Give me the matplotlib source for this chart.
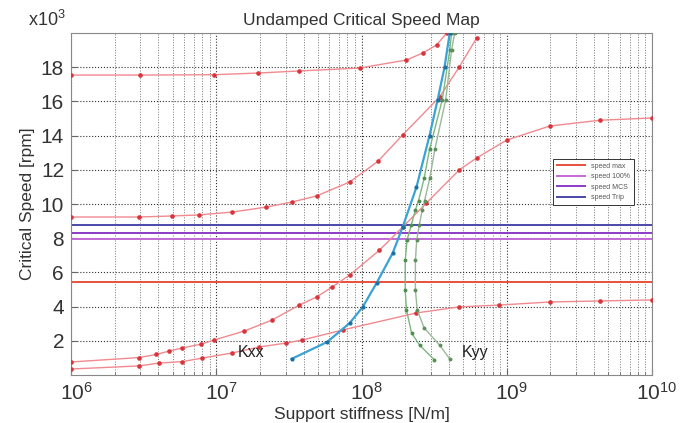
import matplotlib
matplotlib.use("Agg")
import matplotlib.pyplot as plt
import matplotlib.transforms as mtransforms
from matplotlib.ticker import LogLocator, NullFormatter

plt.rcParams['font.family'] = ['Liberation Sans', 'DejaVu Sans']
plt.rcParams['mathtext.default'] = 'regular'

# stiffness [N/m] and critical speed [rpm x 1000]
mode1_k = [1e6, 2.94e6, 4.04e6, 5.83e6, 8.0e6, 1.29e7, 1.98e7, 3.04e7, 3.92e7, 7.4e7,
           2.39e8, 4.7e8, 8.9e8, 1.98e9, 4.4e9, 1e10]
mode1_s = [0.35, 0.53, 0.70, 0.78, 0.99, 1.29, 1.64, 1.87, 2.05, 2.63,
           3.63, 3.98, 4.09, 4.27, 4.33, 4.39]

mode2_k = [1e6, 2.94e6, 3.85e6, 4.74e6, 5.83e6, 7.9e6, 9.7e6, 1.56e7, 2.43e7, 3.73e7,
           4.9e7, 6.3e7, 8.3e7, 1.33e8, 1.92e8, 2.8e8, 4.7e8, 6.2e8, 1.0e9, 1.98e9,
           4.4e9, 1e10]
mode2_s = [0.76, 1.02, 1.2, 1.40, 1.58, 1.81, 2.05, 2.57, 3.22, 4.09,
           4.56, 5.15, 5.85, 7.3, 8.65, 10.06, 11.99, 12.69, 13.74, 14.56,
           14.9, 15.03]

mode3_k = [1e6, 2.94e6, 4.98e6, 7.6e6, 1.29e7, 2.21e7, 3.34e7, 4.9e7, 8.3e7, 1.3e8,
           1.92e8, 3.45e8, 4.7e8, 6.2e8]
mode3_s = [9.24, 9.24, 9.30, 9.36, 9.53, 9.82, 10.12, 10.47, 11.29, 12.5,
           14.04, 16.26, 18.0, 19.7]

mode4_k = [1e6, 3e6, 9.7e6, 1.95e7, 3.73e7, 9.7e7, 2.04e8, 2.64e8, 3.29e8, 3.86e8]
mode4_s = [17.54, 17.54, 17.56, 17.66, 17.78, 17.95, 18.42, 18.83, 19.3, 20.0]

kxx_k = [3.3e7, 5.8e7, 8.3e7, 1.02e8, 1.27e8, 1.64e8, 1.92e8, 2.39e8, 2.94e8, 3.34e8,
         3.73e8, 4.05e8]
kxx_s = [0.94, 1.93, 3.04, 3.98, 5.38, 7.13, 8.65, 10.99, 14.0, 16.08, 18.0, 20.0]

kyy1_k = [3.18e8, 2.51e8, 2.21e8, 2.04e8, 2.0e8, 2.0e8, 2.06e8, 2.2e8, 2.35e8, 2.47e8,
          2.7e8, 2.94e8, 3.6e8, 4.05e8, 4.17e8]
kyy1_s = [0.88, 1.75, 2.46, 3.8, 4.97, 6.7, 7.9, 8.77, 9.65, 10.2,
          11.5, 13.2, 16.1, 19.0, 20.0]

kyy2_k = [4.05e8, 3.45e8, 2.7e8, 2.42e8, 2.35e8, 2.35e8, 2.4e8, 2.5e8, 2.62e8, 2.72e8,
          2.95e8, 3.2e8, 3.8e8, 4.17e8, 4.38e8]
kyy2_s = [0.94, 1.75, 2.75, 3.8, 4.97, 6.7, 7.9, 8.77, 9.65, 10.2,
          11.5, 13.2, 16.1, 19.0, 20.0]

speed_names = ['speed max', 'speed 100%', 'speed MCS', 'speed Trip']
speed_values = [5.44, 7.95, 8.30, 8.77]
speed_colors = ['#e8503a', '#c46ad6', '#8a3cc8', '#4a4aa8']

fig = plt.figure(figsize=(6.88, 4.23), dpi=100)
ax = fig.add_axes([71 / 688, 1 - 375 / 423, 581 / 688, 342 / 423])

for k, s in [(mode1_k, mode1_s), (mode2_k, mode2_s), (mode3_k, mode3_s), (mode4_k, mode4_s)]:
    ax.plot(k, s, '-', color='#f08a8f', lw=1.0, marker='o', ms=2.3,
            mfc='#d8343c', mec='#d8343c', zorder=3)

ax.plot(kxx_k, kxx_s, '-', color='#3aa2d4', lw=1.6, marker='o', ms=2.0,
        mfc='#1d6fa0', mec='#1d6fa0', zorder=4)
ax.plot(kyy1_k, kyy1_s, '-', color='#7cb87c', lw=1.0, marker='o', ms=1.8,
        mfc='#4f8f4f', mec='#4f8f4f', zorder=3)
ax.plot(kyy2_k, kyy2_s, '-', color='#9ab89a', lw=1.0, marker='o', ms=1.8,
        mfc='#5f8f5f', mec='#5f8f5f', zorder=3)

for name, val, col in zip(speed_names, speed_values, speed_colors):
    ax.axhline(val, color=col, lw=1.4, label=name, zorder=2)

ax.set_xscale('log')
ax.set_xlim(1e6, 1e10)
ax.set_ylim(0, 20)
ax.set_yticks([2, 4, 6, 8, 10, 12, 14, 16, 18])
ax.xaxis.set_major_locator(LogLocator(base=10, numticks=10))
ax.xaxis.set_minor_locator(LogLocator(base=10, subs=range(2, 10), numticks=50))
ax.xaxis.set_minor_formatter(NullFormatter())

ax.grid(True, which='major', axis='both', ls=':', color='#333333', lw=0.8)
ax.grid(True, which='minor', axis='x', ls=':', color='#777777', lw=0.7)
ax.set_axisbelow(True)

ax.tick_params(axis='both', which='major', labelsize=15, direction='in',
               length=4, color='#666666', labelcolor='#333333', pad=5)
ax.tick_params(axis='x', which='minor', direction='in', length=2, color='#666666')
for sp in ax.spines.values():
    sp.set_color('#888888')
    sp.set_linewidth(0.8)

# shift x tick labels a little to the right, like the reference
offset = mtransforms.ScaledTranslation(5 / 100, 0, fig.dpi_scale_trans)
for lbl in ax.get_xticklabels():
    lbl.set_transform(lbl.get_transform() + offset)

ax.set_title('Undamped Critical Speed Map', fontsize=12.5, color='#333333', pad=6)
ax.set_xlabel('Support stiffness [N/m]', fontsize=12.5, color='#333333', labelpad=2)
ax.set_ylabel('Critical Speed [rpm]', fontsize=12.5, color='#333333', labelpad=4)
fig.text(28 / 688, 1 - 20 / 423, 'x10$^3$', fontsize=13, color='#333333',
         ha='left', va='center')

ax.text(1.4e7, 1.29, 'Kxx', fontsize=11.5, color='#222222', va='center', zorder=5)
ax.text(4.9e8, 1.29, 'Kyy', fontsize=11.5, color='#222222', va='center', zorder=5)

leg = ax.legend(loc='upper left', bbox_to_anchor=(0.824, 0.643), fontsize=5,
                handlelength=4, frameon=True, fancybox=False, borderpad=0.6,
                labelspacing=0.5, framealpha=1)
leg.get_frame().set_edgecolor('#333333')
leg.get_frame().set_linewidth(0.7)
for t in leg.get_texts():
    t.set_color('#555555')

fig.savefig('out.png', dpi=100)
